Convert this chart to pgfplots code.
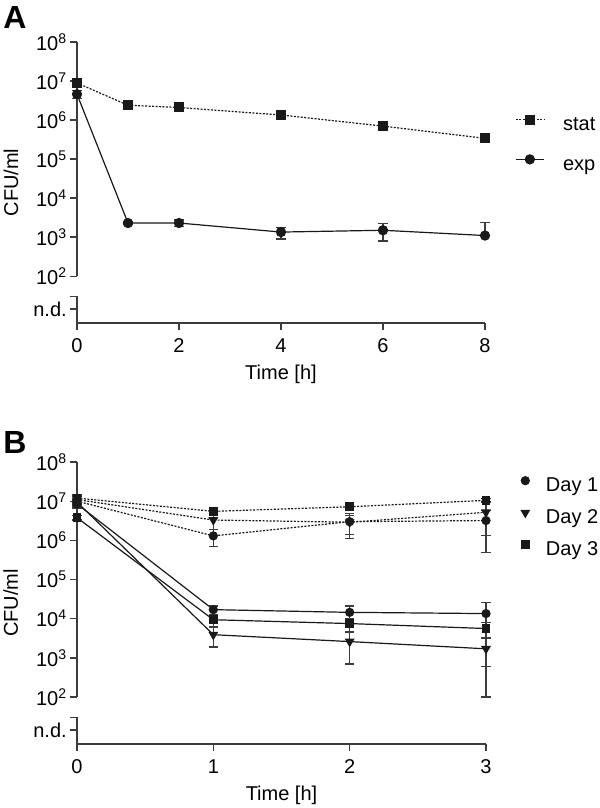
\documentclass[border=0pt]{standalone}
\usepackage{fontspec}
\setmainfont{Liberation Sans}
\usepackage{pgfplots}
\usepackage{pgfplotstable}
\pgfplotsset{compat=1.18}

\definecolor{axcol}{RGB}{60,60,60}
\definecolor{ink}{RGB}{25,25,25}

% panel A
\pgfplotstableread{
t m e
0 8.9e6 1.2e6
1 2.4e6 2e5
2 2.1e6 2e5
4 1.35e6 1.5e5
6 7.0e5 8e4
8 3.4e5 4e4
}\statA
\pgfplotstableread{
t m ep em
0 4.6e6 1.0e6 1.0e6
1 2.3e3 2e2 2e2
2 2.3e3 4.5e2 4.5e2
4 1.35e3 4.5e2 4.5e2
6 1.5e3 7e2 7e2
8 1.1e3 1.3e3 0
}\expA

% panel B, exponential (solid)
\pgfplotstableread{
t m e
0 8.5e6 2e6
1 1.7e4 4e3
2 1.45e4 6.5e3
3 1.35e4 1.29e4
}\expDa
\pgfplotstableread{
t m e
0 9.5e6 2e6
1 3.9e3 2e3
2 2.6e3 1.9e3
3 1.7e3 1.6e3
}\expDb
\pgfplotstableread{
t m e
0 3.8e6 5e5
1 9.4e3 3.2e3
2 7.5e3 2.8e3
3 5.6e3 2.5e3
}\expDc
% panel B, stationary (dotted)
\pgfplotstableread{
t m e
0 1.0e7 3e6
1 1.3e6 6e5
2 3.0e6 1.9e6
3 3.2e6 2.7e6
}\statDa
\pgfplotstableread{
t m e
0 1.1e7 3e6
1 3.3e6 2.6e6
2 2.9e6 1.5e6
3 5.2e6 3.9e6
}\statDb
\pgfplotstableread{
t m e
0 1.2e7 3e6
1 5.5e6 5e5
2 7.2e6 5e5
3 1.05e7 1e6
}\statDc

\tikzset{dots/.style={dash pattern=on 1.5pt off 1.1pt}}

\pgfplotsset{every axis/.append style={
    scale only axis,
    ymode=log, ymin=6.31, ymax=1e8,
    clip=false,
    axis x line*=bottom, axis y line*=left,
    x axis line style={-, draw=axcol, line width=1pt},
    y axis line style={draw=none},
    tick align=outside, major tick length=5.5pt,
    tick style={axcol, line width=1pt},
    minor y tick num=0,
    ytick={14.454,30.2,1e2,1e3,1e4,1e5,1e6,1e7,1e8},
    yticklabels={n.d.,{},10\textsuperscript{2},10\textsuperscript{3},10\textsuperscript{4},10\textsuperscript{5},10\textsuperscript{6},10\textsuperscript{7},10\textsuperscript{8}},
    yticklabel style={inner sep=2pt},
    xticklabel style={inner sep=2pt, yshift=-4pt},
    font=\fontsize{15}{18}\selectfont,
    ylabel={CFU/ml},
    ylabel style={at={(axis description cs:-0.162,0.5)}, anchor=center},
    xlabel={Time [h]},
    xlabel style={at={(axis description cs:0.5,0)}, anchor=base, yshift=-42.4pt},
    legend style={draw=none, fill=none, inner sep=0pt, anchor=north west,
      font=\fontsize{15}{18}\selectfont,
      nodes={inner sep=0pt, text height=11pt, text depth=3pt}},
    legend cell align=left,
  }}
\pgfplotsset{
  every axis plot/.append style={ink, line width=0.9pt},
  error bars/y dir=both, error bars/y explicit,
  error bars/error bar style={axcol, line width=0.9pt, solid},
  error bars/error mark options={rotate=90, mark size=3.4pt, axcol, line width=0.9pt, solid},
}

\begin{document}
\begin{tikzpicture}
\useasboundingbox (0,0) rectangle (450pt,-606pt);

% ---------- A ----------
\node[font=\fontsize{24}{28}\selectfont\bfseries] at (11.25pt,-12.75pt) {A};
\begin{axis}[
  at={(57.75pt,-242.25pt)}, anchor=south west,
  width=306pt, height=210.75pt,
  xmin=0, xmax=8, xtick={0,2,4,6,8}, xticklabels={0,2,4,6,8},
  legend style={at={(1.0735,0.7396)}, row sep=15.25pt, column sep=14pt},
  legend image code/.code={\draw[mark repeat=2,mark phase=2,#1] plot coordinates {(0pt,4pt) (10.5pt,4pt) (21pt,4pt)};},
]
\draw[axcol, line width=1pt] (axis cs:0,1e2) -- (axis cs:0,1e8);
\draw[axcol, line width=1pt] (axis cs:0,6.31) -- (axis cs:0,30.2);
\addplot[dots, mark=square*, mark size=3.3pt, mark options={solid}]
  table[x=t, y=m, y error=e] {\statA};
\addlegendentry{stat}
\addplot[mark=*, mark size=3.4pt]
  table[x=t, y=m, y error plus=ep, y error minus=em] {\expA};
\addlegendentry{exp}
\end{axis}

% ---------- B ----------
\node[font=\fontsize{24}{28}\selectfont\bfseries] at (11.25pt,-331.5pt) {B};
\begin{axis}[
  at={(57.75pt,-558pt)}, anchor=south west,
  width=306.75pt, height=211.5pt,
  xmin=0, xmax=3, xtick={0,1,2,3}, xticklabels={0,1,2,3},
  legend style={at={(1.0857,0.949)}, row sep=10pt, column sep=12.5pt},
  legend image code/.code={\draw[#1] plot coordinates {(0pt,4pt)};},
]
\draw[axcol, line width=1pt] (axis cs:0,1e2) -- (axis cs:0,1e8);
\draw[axcol, line width=1pt] (axis cs:0,6.31) -- (axis cs:0,30.2);
\addplot[forget plot, dots, mark=*, mark size=3pt, mark options={solid}] table[x=t, y=m, y error=e] {\statDa};
\addplot[forget plot, dots, mark=triangle*, mark size=3.4pt, mark options={solid, rotate=180}] table[x=t, y=m, y error=e] {\statDb};
\addplot[forget plot, dots, mark=square*, mark size=2.9pt, mark options={solid}] table[x=t, y=m, y error=e] {\statDc};
\addplot[forget plot, mark=*, mark size=3pt] table[x=t, y=m, y error=e] {\expDa};
\addplot[forget plot, mark=triangle*, mark size=3.4pt, mark options={rotate=180}] table[x=t, y=m, y error=e] {\expDb};
\addplot[forget plot, mark=square*, mark size=2.9pt] table[x=t, y=m, y error=e] {\expDc};
\addlegendimage{ink, only marks, mark=*, mark size=3pt}
\addlegendentry{Day 1}
\addlegendimage{ink, only marks, mark=triangle*, mark size=3.4pt, mark options={rotate=180}}
\addlegendentry{Day 2}
\addlegendimage{ink, only marks, mark=square*, mark size=2.9pt}
\addlegendentry{Day 3}
\end{axis}
\end{tikzpicture}
\end{document}
